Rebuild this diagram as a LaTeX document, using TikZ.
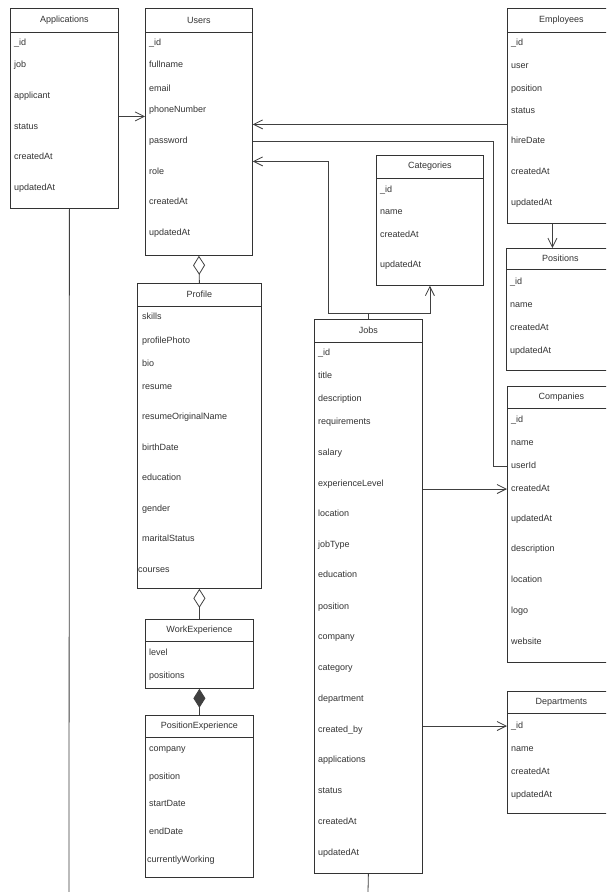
\documentclass[tikz,border=0pt]{standalone}
\usepackage{fontspec}
\setmainfont{Liberation Sans}
\usepackage{tikz}
\usetikzlibrary{arrows.meta,positioning,calc}

\begin{document}
\begin{tikzpicture}[
    x=1pt, y=-1pt,
    entity/.style={rectangle, draw=black!80, line width=0.8pt, anchor=north west, minimum width=108pt, inner sep=0pt},
    head/.style={font=\fontsize{9}{10}\selectfont, text=black!80},
    field/.style={font=\fontsize{9}{10}\selectfont, text=black!80, anchor=west, inner sep=0pt, text height=7pt, text depth=2pt},
    link/.style={draw=black!75, line width=0.8pt},
    arrow/.style={link, -{Straight Barb[length=9pt, width=9pt]}},
    aggr/.style={link, {Diamond[open, length=19pt, width=12pt]}-},
    compo/.style={link, {Diamond[length=19pt, width=12pt]}-}
]
    \useasboundingbox (0,0) rectangle (606,892);
    \clip (0,0) rectangle (606,892);
    \fill[white] (0,0) rectangle (606,892);

    % entities: name/title/x/y/width/height/header
    \foreach \n/\t/\x/\y/\w/\h/\hd in {
        apps/Applications/10/8/108/200/24,
        users/Users/145/8/107/247/24,
        emp/Employees/507/8/108/215/24,
        cat/Categories/376/155/107/130/23,
        pos/Positions/506/248/108/122/21,
        comp/Companies/507/386/108/276/22,
        dept/Departments/507/691/108/122/22,
        profile/Profile/137/283/124/305/23,
        jobs/Jobs/314/319/108/554/23,
        workexp/WorkExperience/145/619/108/69/22,
        posexp/PositionExperience/145/715/108/162/22} {
        \node[entity, minimum width=\w pt, minimum height=\h pt] (\n) at (\x,\y) {};
        \node[head] (\n-title) at ($(\n.north)+(0,\hd/2)$) {\t};
        \draw[draw=black!80, line width=0.8pt] ($(\n.north west)+(0,\hd)$) -- ($(\n.north east)+(0,\hd)$);
    }

    % fields
    \foreach \f/\y [count=\i] in {\_id/43, job/65, applicant/96, status/127, createdAt/157, updatedAt/188}
        \node[field] (apps-f\i) at (14,\y) {\f};
    \foreach \f/\y [count=\i] in {\_id/43, fullname/65, email/89, phoneNumber/110, password/141, role/172, createdAt/202, updatedAt/233}
        \node[field] (users-f\i) at (149,\y) {\f};
    \foreach \f/\y [count=\i] in {\_id/43, user/66, position/89, status/111, hireDate/141, createdAt/172, updatedAt/203}
        \node[field] (emp-f\i) at (511,\y) {\f};
    \foreach \f/\y [count=\i] in {\_id/190, name/212, createdAt/235, updatedAt/265}
        \node[field] (cat-f\i) at (380,\y) {\f};
    \foreach \f/\y [count=\i] in {\_id/282, name/305, createdAt/328, updatedAt/351}
        \node[field] (pos-f\i) at (510,\y) {\f};
    \foreach \f/\y [count=\i] in {\_id/420, name/443, userId/466, createdAt/489, updatedAt/519, description/549, location/580, logo/611, website/642}
        \node[field] (comp-f\i) at (511,\y) {\f};
    \foreach \f/\y [count=\i] in {\_id/726, name/749, createdAt/772, updatedAt/795}
        \node[field] (dept-f\i) at (511,\y) {\f};
    \foreach \f/\y [count=\i] in {skills/317, profilePhoto/341, bio/364, resume/387, resumeOriginalName/417, birthDate/448, education/478, gender/509, maritalStatus/539}
        \node[field] (profile-f\i) at (142,\y) {\f};
    \node[field] (profile-f10) at (138,570) {courses};
    \foreach \f/\y [count=\i] in {\_id/353, title/376, description/399, requirements/422, salary/453, experienceLevel/484, location/514, jobType/545, education/575, position/607, company/637, category/668, department/699, created\_by/730, applications/760, status/791, createdAt/822, updatedAt/853}
        \node[field] (jobs-f\i) at (318,\y) {\f};
    \foreach \f/\y [count=\i] in {level/653, positions/676}
        \node[field] (workexp-f\i) at (149,\y) {\f};
    \foreach \f/\y [count=\i] in {company/749, position/777, startDate/804, endDate/832}
        \node[field] (posexp-f\i) at (149,\y) {\f};
    \node[field] (posexp-f5) at (147,860) {currentlyWorking};

    % relations
    \draw[arrow] ([yshift=-8pt]apps.east) coordinate (a2u) -- (a2u -| users.west);
    \draw[arrow] ([yshift=-8.5pt]emp.west) coordinate (e2u) -- (e2u -| users.east);
    \draw[link] (comp.west |- comp-f3) -- ++(-14,0) |- (users.east |- users-f5);
    \draw[arrow] (jobs.north) -- ++(0,-6) -- ++(-40,0) |- ([yshift=-29.5pt]users.east);
    \draw[arrow] (jobs.north) -- ++(0,-6) -| (cat.south);
    \draw[arrow] ([xshift=-9pt]emp.south) coordinate (e2p) -- (e2p |- pos.north);
    \draw[arrow] (jobs.east |- comp-f4) -- (comp.west |- comp-f4);
    \draw[arrow] (jobs.east |- dept-f1) -- (dept.west |- dept-f1);

    \draw[aggr] (users.south) -- (profile.north);
    \draw[aggr] (profile.south) -- (workexp.north);
    \draw[compo] (workexp.south) -- (posexp.north);

    \coordinate (apps-end) at (69,892);
    \coordinate (jobs-end) at (368,892);
    \draw[link] ([xshift=5pt]apps.south) -- (apps-end);
    \draw[link] (jobs.south) -- (jobs-end);
\end{tikzpicture}
\end{document}
